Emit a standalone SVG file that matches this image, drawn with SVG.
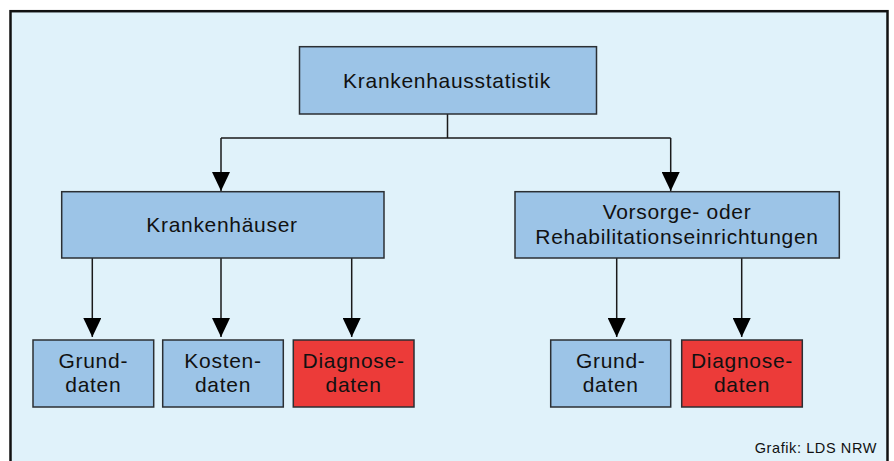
<svg xmlns="http://www.w3.org/2000/svg" width="894" height="461" viewBox="0 0 894 461">
<style>
text{font-family:"Liberation Sans",Arial,sans-serif;fill:#111;text-anchor:middle;font-size:21px;letter-spacing:0.7px}
.b{fill:#9cc4e7;stroke:#2b2f33;stroke-width:1.5}
.r{fill:#ec3b39;stroke:#2b2f33;stroke-width:1.5}
.c{fill:none;stroke:#1a1a1a;stroke-width:1.5}
</style>
<defs>
<marker id="ah" viewBox="0 0 19 18" refX="19" refY="9" markerWidth="19" markerHeight="18" markerUnits="userSpaceOnUse" orient="auto">
<path d="M0,0 L19,9 L0,18 Z" fill="#000"/>
</marker>
</defs>
<rect x="0" y="0" width="894" height="461" fill="#fff"/>
<rect x="10.5" y="11.2" width="877" height="470" fill="#e0f2fa" stroke="#111" stroke-width="2.5"/>
<g id="connectors">
<path class="c" d="M447.5,114 V138 M221,138 H670.7"/>
<path class="c" d="M221,138 V191" marker-end="url(#ah)"/>
<path class="c" d="M670.7,138 V191" marker-end="url(#ah)"/>
<path class="c" d="M92.3,258 V337" marker-end="url(#ah)"/>
<path class="c" d="M221,258 V337" marker-end="url(#ah)"/>
<path class="c" d="M351.7,258 V337" marker-end="url(#ah)"/>
<path class="c" d="M616.7,258 V337" marker-end="url(#ah)"/>
<path class="c" d="M741.7,258 V337" marker-end="url(#ah)"/>
</g>
<g id="n-root">
<rect class="b" x="299.5" y="46.7" width="297" height="67.3"/>
<text x="447" y="88">Krankenhausstatistik</text>
</g>
<g id="n-kh">
<rect class="b" x="61.7" y="191.7" width="322.3" height="66.3"/>
<text x="222" y="232">Krankenhäuser</text>
</g>
<g id="n-vr">
<rect class="b" x="515" y="191.7" width="324.3" height="66.3"/>
<text x="677" y="219">Vorsorge- oder</text>
<text x="677" y="243.7">Rehabilitationseinrichtungen</text>
</g>
<g id="n-kh-grund">
<rect class="b" x="33" y="340" width="120.7" height="67"/>
<text x="93.3" y="367.5">Grund-</text>
<text x="93.3" y="392.2">daten</text>
</g>
<g id="n-kh-kosten">
<rect class="b" x="162.7" y="340" width="120.6" height="67"/>
<text x="223" y="367.5">Kosten-</text>
<text x="223" y="392.2">daten</text>
</g>
<g id="n-kh-diag">
<rect class="r" x="293.3" y="340" width="120.7" height="67"/>
<text x="353.6" y="367.5">Diagnose-</text>
<text x="353.6" y="392.2">daten</text>
</g>
<g id="n-vr-grund">
<rect class="b" x="550.7" y="340" width="120" height="67"/>
<text x="610.7" y="367.5">Grund-</text>
<text x="610.7" y="392.2">daten</text>
</g>
<g id="n-vr-diag">
<rect class="r" x="681.7" y="340" width="120.6" height="67"/>
<text x="742" y="367.5">Diagnose-</text>
<text x="742" y="392.2">daten</text>
</g>
<text x="877" y="452.7" style="font-size:14.5px;letter-spacing:0.6px;text-anchor:end">Grafik: LDS NRW</text>
</svg>
